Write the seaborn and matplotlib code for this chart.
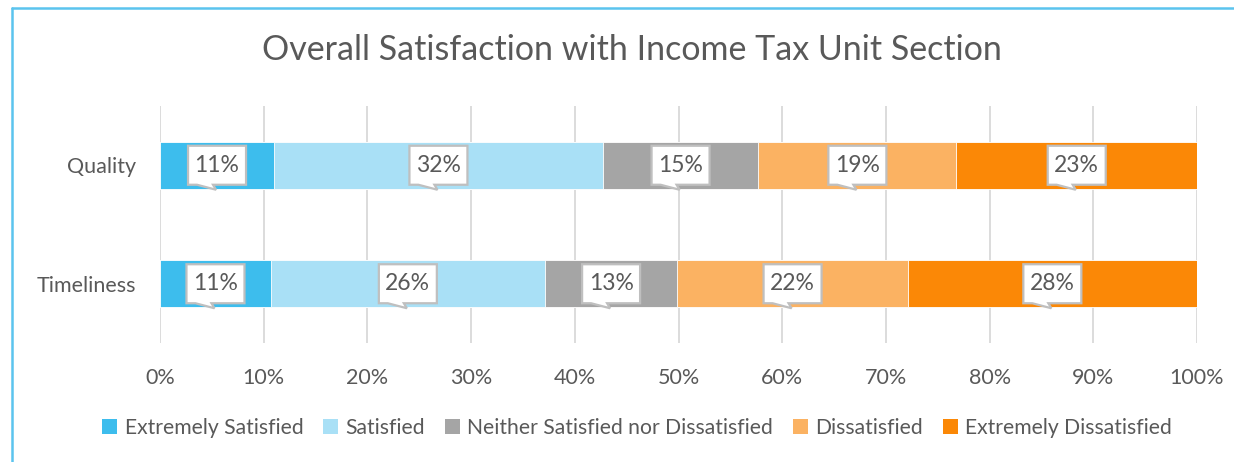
import matplotlib
matplotlib.use("Agg")
import matplotlib.pyplot as plt
import seaborn as sns
import pandas as pd
import numpy as np
from matplotlib.patches import Patch, Polygon
from matplotlib.lines import Line2D
from matplotlib.transforms import ScaledTranslation

# ---- data ----
categories = ["Quality", "Timeliness"]
series_names = ["Extremely Satisfied", "Satisfied", "Neither Satisfied nor Dissatisfied",
                "Dissatisfied", "Extremely Dissatisfied"]
extremely_satisfied = [11.0, 10.7]
satisfied = [31.7, 26.4]
neither = [15.0, 12.8]
dissatisfied = [19.1, 22.2]
extremely_dissatisfied = [23.2, 27.9]
xtick_values = [0, 10, 20, 30, 40, 50, 60, 70, 80, 90, 100]

colors = ["#3DBDED", "#A9E0F6", "#A5A5A5", "#FBB262", "#FB8806"]
text_color = "#595959"

series = [extremely_satisfied, satisfied, neither, dissatisfied, extremely_dissatisfied]
vals = np.array(series)          # shape (5, 2)
cum = np.cumsum(vals, axis=0)     # cumulative right edges

sns.set_theme(style="white")
plt.rcParams["font.family"] = ["Lato", "DejaVu Sans"]

fig = plt.figure(figsize=(12.34, 4.62), dpi=100)
ax = fig.add_axes([160 / 1234, 1 - 343 / 462, 1037 / 1234, 237 / 462])

# stacked bars: draw cumulative totals back-to-front
for i in range(len(series) - 1, -1, -1):
    df = pd.DataFrame({"cat": categories, "value": cum[i]})
    sns.barplot(data=df, x="value", y="cat", color=colors[i], orient="h",
                width=0.4, errorbar=None, ax=ax, saturation=1,
                edgecolor="white", linewidth=0.6, zorder=2)

ax.set_xlim(0, 100)
ax.set_ylim(1.5, -0.5)
ax.set_xticks(xtick_values)
ax.set_xticklabels([f"{v}%" for v in xtick_values])
ax.set_xlabel("")
ax.set_ylabel("")
ax.tick_params(axis="x", length=0, pad=18, labelsize=15.5, labelcolor=text_color)
ax.tick_params(axis="y", length=0, pad=17, labelsize=15.5, labelcolor=text_color)
for s in ax.spines.values():
    s.set_visible(False)
ax.xaxis.grid(True, color="#D9D9D9", linewidth=1.3, zorder=0)
ax.yaxis.grid(False)
ax.set_axisbelow(True)

# callout data labels
bw, bh = 0.58, 0.39   # inches
for i in range(len(series)):
    for j, cat in enumerate(categories):
        left = cum[i][j] - vals[i][j]
        cx = left + vals[i][j] / 2
        trans = fig.dpi_scale_trans + ScaledTranslation(cx, j, ax.transData)
        hw, hh = bw / 2, bh / 2
        pts = [(-hw, hh), (hw, hh), (hw, -hh), (-0.04, -hh), (-0.01, -hh - 0.05),
               (-0.20, -hh), (-hw, -hh)]
        poly = Polygon(pts, closed=True, transform=trans, facecolor="white",
                       edgecolor="#BFBFBF", linewidth=1.6, zorder=3)
        ax.add_patch(poly)
        ax.text(cx, j, f"{round(vals[i][j]):.0f}%", ha="center", va="center",
                fontsize=16.5, color=text_color, zorder=4)

# title
fig.text(631.5 / 1234, 1 - 50 / 462, "Overall Satisfaction with Income Tax Unit Section",
         ha="center", va="center", fontsize=24.5, color=text_color)

# legend
handles = [Patch(facecolor=c, edgecolor="none", label=n) for c, n in zip(colors, series_names)]
fig.legend(handles=handles, loc="center", bbox_to_anchor=(637 / 1234, 1 - 428 / 462),
           ncol=5, frameon=False, fontsize=15.2, labelcolor=text_color,
           handlelength=0.7, handleheight=0.7, handletextpad=0.35, columnspacing=0.95)

# chart border (left and top)
fig.add_artist(Line2D([11.5 / 1234, 11.5 / 1234], [0, 1 - 7.5 / 462],
                      transform=fig.transFigure, color="#5BC4EE", linewidth=1.8))
fig.add_artist(Line2D([11.5 / 1234, 1], [1 - 7.5 / 462, 1 - 7.5 / 462],
                      transform=fig.transFigure, color="#5BC4EE", linewidth=1.8))

fig.savefig("out.png", dpi=100)
